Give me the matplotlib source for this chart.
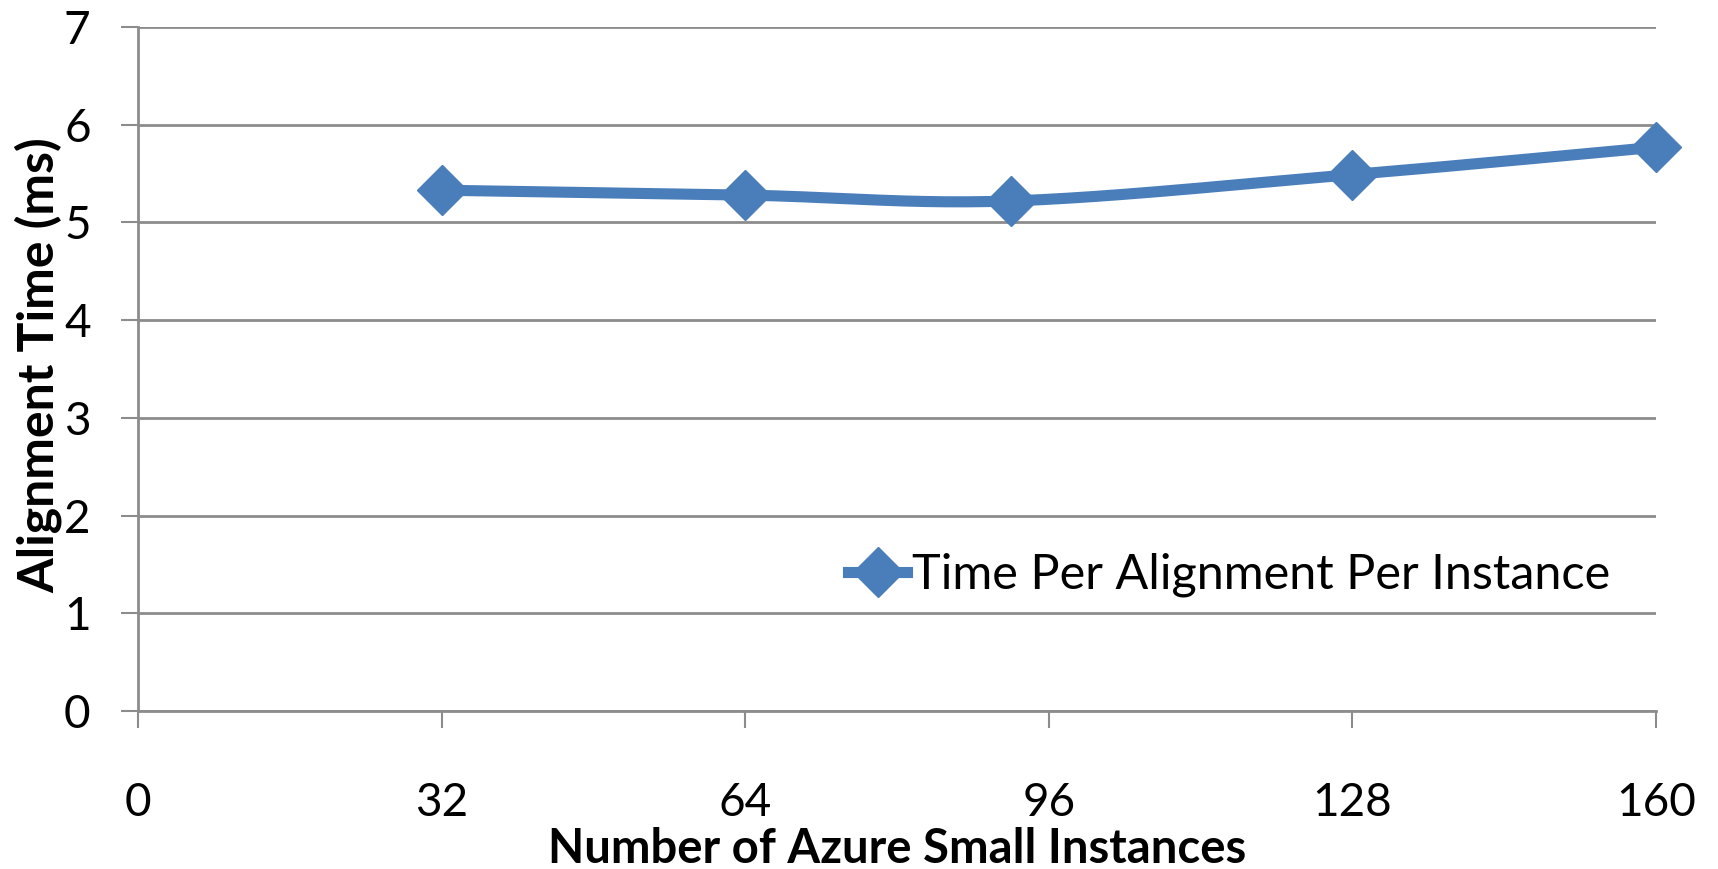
import numpy as np
import matplotlib
matplotlib.use('Agg')
import matplotlib.pyplot as plt

# data
instances = [32, 64, 92, 128, 160]
align_time = [5.33, 5.28, 5.22, 5.49, 5.77]
x_ticks = [0, 32, 64, 96, 128, 160]
y_ticks = [0, 1, 2, 3, 4, 5, 6, 7]

blue = '#4a7ebb'
grey = '#8c8c8c'

plt.rcParams['font.family'] = ['Lato', 'DejaVu Sans']


def smooth(xs, ys, n=40):
    # Catmull-Rom style smoothing, like the spreadsheet "smoothed line"
    xs = np.asarray(xs, float)
    ys = np.asarray(ys, float)
    px = np.concatenate([[xs[0]], xs, [xs[-1]]])
    py = np.concatenate([[ys[0]], ys, [ys[-1]]])
    ox, oy = [], []
    for i in range(1, len(px) - 2):
        p0, p1, p2, p3 = (np.array([px[j], py[j]]) for j in (i - 1, i, i + 1, i + 2))
        c1 = p1 + (p2 - p0) / 6
        c2 = p2 - (p3 - p1) / 6
        t = np.linspace(0, 1, n)[:, None]
        b = (1 - t) ** 3 * p1 + 3 * (1 - t) ** 2 * t * c1 + 3 * (1 - t) * t ** 2 * c2 + t ** 3 * p2
        ox.extend(b[:, 0])
        oy.extend(b[:, 1])
    return ox, oy


fig = plt.figure(figsize=(17.18, 8.69), dpi=100)
ax = fig.add_axes([0.0803, 0.1818, 0.8836, 0.7871])

sx, sy = smooth(instances, align_time)
ax.plot(sx, sy, color=blue, linewidth=8, solid_capstyle='round', clip_on=False, zorder=3)
ax.plot(instances, align_time, linestyle='none', marker='D', markersize=25,
        color=blue, clip_on=False, zorder=4)
# legend proxy
ax.plot([], [], color=blue, linewidth=8, marker='D', markersize=25,
        label='Time Per Alignment Per Instance')

ax.set_xlim(0, 160)
ax.set_ylim(0, 7)
ax.set_xticks(x_ticks)
ax.set_yticks(y_ticks)
ax.grid(axis='y', color=grey, linewidth=2)
ax.set_axisbelow(True)

for s in ['top', 'right']:
    ax.spines[s].set_visible(False)
for s in ['left', 'bottom']:
    ax.spines[s].set_color(grey)
    ax.spines[s].set_linewidth(2)

ax.tick_params(axis='x', length=12, width=1.5, color=grey, pad=39, labelsize=33)
ax.tick_params(axis='y', length=12, width=1.5, color=grey, pad=22, labelsize=33)

ax.set_xlabel('Number of Azure Small Instances', fontsize=34, fontweight='bold')
ax.set_ylabel('Alignment Time (ms)', fontsize=36, fontweight='bold')
ax.xaxis.set_label_coords(0.5, -0.17)
ax.yaxis.set_label_coords(-0.05, 0.505)

ax.legend(loc='center left', bbox_to_anchor=(0.468, 0.199), frameon=False,
          fontsize=35, handlelength=1.2, handletextpad=0.1, borderaxespad=0,
          borderpad=0)

fig.savefig('out.png', dpi=100)
